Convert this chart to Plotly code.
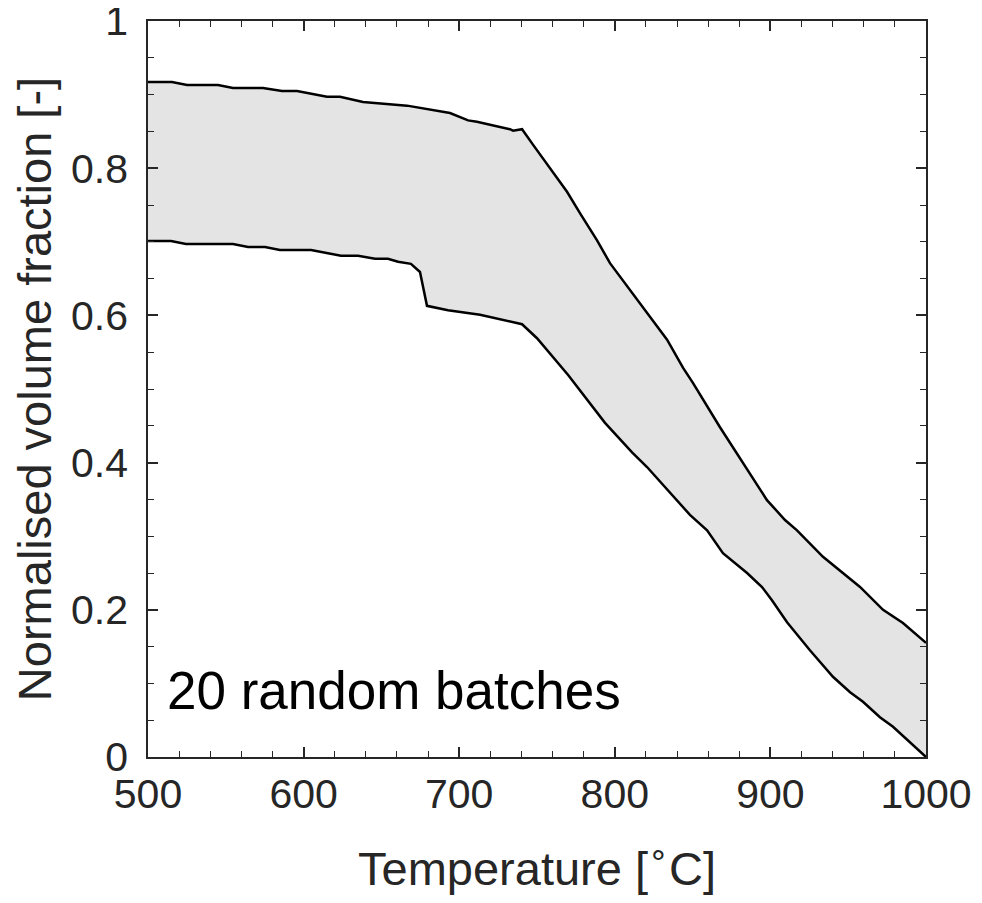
import plotly.graph_objects as go

# Upper envelope (max over batches)
upper_T = [500, 515.4, 525.1, 545.0, 554.6, 573.9, 586.1, 595.8, 615.0, 623.4, 638.2,
           662.0, 666.5, 694.1, 705.7, 711.4, 732.6, 734.6, 740.4, 747.4, 758.4, 769.3,
           777.6, 788.6, 796.9, 809.8, 820.7, 833.6, 843.8, 850.3, 867.6, 882.4, 897.8,
           909.4, 917.1, 933.8, 949.2, 957.6, 972.4, 985.2, 1000]
upper_V = [0.917, 0.917, 0.913, 0.913, 0.909, 0.909, 0.905, 0.905, 0.897, 0.897, 0.890,
           0.885, 0.885, 0.875, 0.865, 0.863, 0.853, 0.851, 0.853, 0.832, 0.799, 0.768,
           0.739, 0.702, 0.671, 0.635, 0.603, 0.567, 0.529, 0.508, 0.448, 0.399, 0.349,
           0.322, 0.308, 0.272, 0.245, 0.231, 0.200, 0.182, 0.155]

# Lower envelope (min over batches)
lower_T = [500, 514.8, 524.4, 554.6, 564.3, 575.2, 584.8, 604.8, 624.0, 635.0, 645.9,
           654.2, 660.7, 669.0, 674.8, 679.3, 692.8, 713.4, 740.4, 750.0, 770.0, 793.7,
           811.1, 820.7, 848.3, 859.3, 869.5, 885.0, 894.6, 901.0, 910.7, 925.4, 940.2,
           951.2, 959.5, 970.4, 978.8, 989.7, 1000]
lower_V = [0.701, 0.701, 0.697, 0.697, 0.693, 0.693, 0.689, 0.689, 0.681, 0.681, 0.677,
           0.677, 0.673, 0.670, 0.659, 0.613, 0.607, 0.601, 0.588, 0.569, 0.519, 0.454,
           0.414, 0.394, 0.329, 0.308, 0.277, 0.250, 0.231, 0.213, 0.183, 0.145, 0.109,
           0.088, 0.075, 0.054, 0.041, 0.020, 0.0]

x_tickvals = [500, 600, 700, 800, 900, 1000]
x_ticktext = ["500", "600", "700", "800", "900", "1000"]
y_tickvals = [0, 0.2, 0.4, 0.6, 0.8, 1.0]
y_ticktext = ["0", "0.2", "0.4", "0.6", "0.8", "1"]

annotation_text = "20 random batches"

AXC = "#262626"
FONT = "Liberation Sans, Arial, Helvetica, sans-serif"

fig = go.Figure()

# shaded band between envelopes
fig.add_trace(go.Scatter(
    x=upper_T + lower_T[::-1],
    y=upper_V + lower_V[::-1],
    fill="toself", fillcolor="#e4e4e4",
    line=dict(width=0), mode="lines", hoverinfo="skip", showlegend=False))

fig.add_trace(go.Scatter(x=upper_T, y=upper_V, mode="lines",
                         line=dict(color="black", width=2.5), showlegend=False))
fig.add_trace(go.Scatter(x=lower_T, y=lower_V, mode="lines",
                         line=dict(color="black", width=2.5), showlegend=False))

fig.add_annotation(x=511, y=0.091, xref="x", yref="y", text=annotation_text,
                   showarrow=False, xanchor="left", yanchor="middle",
                   font=dict(family=FONT, size=53, color="black"))

axis_common = dict(
    showgrid=False, zeroline=False, showline=True, linecolor=AXC, linewidth=1.5,
    mirror="ticks", ticks="inside", ticklen=10, tickwidth=1.5, tickcolor=AXC,
    tickfont=dict(family=FONT, size=41, color=AXC), ticklabeloverflow="allow",
)

fig.update_xaxes(range=[500, 1000], tickvals=x_tickvals, ticktext=x_ticktext,
                 minor=dict(dtick=20, ticks="inside", ticklen=6, tickwidth=1.2, tickcolor=AXC),
                 title=dict(text="Temperature [<sup>∘</sup>C]", standoff=46,
                            font=dict(family=FONT, size=47, color=AXC)),
                 **axis_common)
fig.update_yaxes(range=[0, 1], tickvals=y_tickvals, ticktext=y_ticktext,
                 ticklabelstandoff=10,
                 minor=dict(dtick=0.05, ticks="inside", ticklen=6, tickwidth=1.2, tickcolor=AXC),
                 title=dict(text="Normalised volume fraction [-]", standoff=10,
                            font=dict(family=FONT, size=47, color=AXC)),
                 **axis_common)

# page body has an 8px margin, so the figure is placed 8px in from the top-left
fig.update_layout(
    width=966, height=887,
    margin=dict(l=140, r=48, t=13, b=138, autoexpand=False),
    plot_bgcolor="white", paper_bgcolor="white",
)

fig.write_html("out.html")
